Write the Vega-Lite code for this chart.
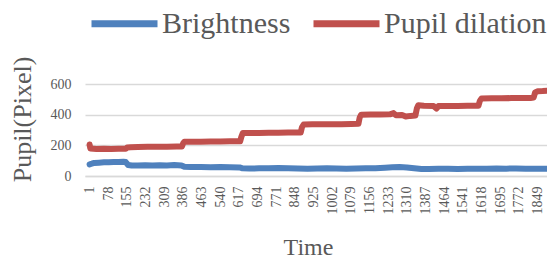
{
  "$schema": "https://vega.github.io/schema/vega-lite/v6.json",
  "width": 462,
  "height": 92,
  "autosize": "none",
  "padding": {"left": 85, "top": 84, "right": 0, "bottom": 88},
  "background": "white",
  "config": {"view": {"stroke": null}, "font": "Liberation Serif"},
  "data": {
    "values": [
      {"t": 1, "series": "Pupil dilation", "v": 205},
      {"t": 4, "series": "Pupil dilation", "v": 180},
      {"t": 30, "series": "Pupil dilation", "v": 176},
      {"t": 60, "series": "Pupil dilation", "v": 177},
      {"t": 90, "series": "Pupil dilation", "v": 176},
      {"t": 120, "series": "Pupil dilation", "v": 177},
      {"t": 150, "series": "Pupil dilation", "v": 177},
      {"t": 156, "series": "Pupil dilation", "v": 186},
      {"t": 170, "series": "Pupil dilation", "v": 188},
      {"t": 200, "series": "Pupil dilation", "v": 189},
      {"t": 240, "series": "Pupil dilation", "v": 190},
      {"t": 280, "series": "Pupil dilation", "v": 190},
      {"t": 320, "series": "Pupil dilation", "v": 191},
      {"t": 360, "series": "Pupil dilation", "v": 192},
      {"t": 382, "series": "Pupil dilation", "v": 193},
      {"t": 387, "series": "Pupil dilation", "v": 214},
      {"t": 392, "series": "Pupil dilation", "v": 223},
      {"t": 420, "series": "Pupil dilation", "v": 224},
      {"t": 460, "series": "Pupil dilation", "v": 224},
      {"t": 500, "series": "Pupil dilation", "v": 225},
      {"t": 540, "series": "Pupil dilation", "v": 225},
      {"t": 580, "series": "Pupil dilation", "v": 226},
      {"t": 622, "series": "Pupil dilation", "v": 226},
      {"t": 627, "series": "Pupil dilation", "v": 255},
      {"t": 633, "series": "Pupil dilation", "v": 280},
      {"t": 660, "series": "Pupil dilation", "v": 281},
      {"t": 700, "series": "Pupil dilation", "v": 281},
      {"t": 740, "series": "Pupil dilation", "v": 282},
      {"t": 780, "series": "Pupil dilation", "v": 282},
      {"t": 820, "series": "Pupil dilation", "v": 283},
      {"t": 860, "series": "Pupil dilation", "v": 283},
      {"t": 872, "series": "Pupil dilation", "v": 284},
      {"t": 877, "series": "Pupil dilation", "v": 318},
      {"t": 884, "series": "Pupil dilation", "v": 336},
      {"t": 920, "series": "Pupil dilation", "v": 337},
      {"t": 960, "series": "Pupil dilation", "v": 337},
      {"t": 1000, "series": "Pupil dilation", "v": 338},
      {"t": 1040, "series": "Pupil dilation", "v": 338},
      {"t": 1080, "series": "Pupil dilation", "v": 339},
      {"t": 1110, "series": "Pupil dilation", "v": 340},
      {"t": 1115, "series": "Pupil dilation", "v": 380},
      {"t": 1121, "series": "Pupil dilation", "v": 400},
      {"t": 1160, "series": "Pupil dilation", "v": 401},
      {"t": 1200, "series": "Pupil dilation", "v": 401},
      {"t": 1240, "series": "Pupil dilation", "v": 402},
      {"t": 1255, "series": "Pupil dilation", "v": 410},
      {"t": 1265, "series": "Pupil dilation", "v": 396},
      {"t": 1290, "series": "Pupil dilation", "v": 398},
      {"t": 1305, "series": "Pupil dilation", "v": 388},
      {"t": 1325, "series": "Pupil dilation", "v": 392},
      {"t": 1345, "series": "Pupil dilation", "v": 394},
      {"t": 1351, "series": "Pupil dilation", "v": 440},
      {"t": 1357, "series": "Pupil dilation", "v": 462},
      {"t": 1380, "series": "Pupil dilation", "v": 458},
      {"t": 1420, "series": "Pupil dilation", "v": 457},
      {"t": 1432, "series": "Pupil dilation", "v": 440},
      {"t": 1440, "series": "Pupil dilation", "v": 456},
      {"t": 1480, "series": "Pupil dilation", "v": 457},
      {"t": 1520, "series": "Pupil dilation", "v": 457},
      {"t": 1560, "series": "Pupil dilation", "v": 458},
      {"t": 1605, "series": "Pupil dilation", "v": 458},
      {"t": 1611, "series": "Pupil dilation", "v": 490},
      {"t": 1618, "series": "Pupil dilation", "v": 506},
      {"t": 1660, "series": "Pupil dilation", "v": 507},
      {"t": 1700, "series": "Pupil dilation", "v": 507},
      {"t": 1740, "series": "Pupil dilation", "v": 508},
      {"t": 1780, "series": "Pupil dilation", "v": 508},
      {"t": 1820, "series": "Pupil dilation", "v": 509},
      {"t": 1833, "series": "Pupil dilation", "v": 512},
      {"t": 1839, "series": "Pupil dilation", "v": 545},
      {"t": 1850, "series": "Pupil dilation", "v": 553},
      {"t": 1870, "series": "Pupil dilation", "v": 554},
      {"t": 1888, "series": "Pupil dilation", "v": 556},
      {"t": 1, "series": "Brightness", "v": 76},
      {"t": 10, "series": "Brightness", "v": 80},
      {"t": 20, "series": "Brightness", "v": 85},
      {"t": 40, "series": "Brightness", "v": 87},
      {"t": 60, "series": "Brightness", "v": 89},
      {"t": 80, "series": "Brightness", "v": 90},
      {"t": 100, "series": "Brightness", "v": 91},
      {"t": 120, "series": "Brightness", "v": 92},
      {"t": 140, "series": "Brightness", "v": 93},
      {"t": 150, "series": "Brightness", "v": 91},
      {"t": 160, "series": "Brightness", "v": 72},
      {"t": 175, "series": "Brightness", "v": 68},
      {"t": 200, "series": "Brightness", "v": 69},
      {"t": 230, "series": "Brightness", "v": 70},
      {"t": 260, "series": "Brightness", "v": 68},
      {"t": 290, "series": "Brightness", "v": 70},
      {"t": 320, "series": "Brightness", "v": 69},
      {"t": 350, "series": "Brightness", "v": 71},
      {"t": 380, "series": "Brightness", "v": 69},
      {"t": 392, "series": "Brightness", "v": 60},
      {"t": 420, "series": "Brightness", "v": 58},
      {"t": 460, "series": "Brightness", "v": 59},
      {"t": 500, "series": "Brightness", "v": 57},
      {"t": 540, "series": "Brightness", "v": 58},
      {"t": 580, "series": "Brightness", "v": 57},
      {"t": 620, "series": "Brightness", "v": 56},
      {"t": 632, "series": "Brightness", "v": 50},
      {"t": 660, "series": "Brightness", "v": 49},
      {"t": 700, "series": "Brightness", "v": 50},
      {"t": 740, "series": "Brightness", "v": 51},
      {"t": 780, "series": "Brightness", "v": 52},
      {"t": 820, "series": "Brightness", "v": 50},
      {"t": 860, "series": "Brightness", "v": 49},
      {"t": 900, "series": "Brightness", "v": 48},
      {"t": 940, "series": "Brightness", "v": 49},
      {"t": 980, "series": "Brightness", "v": 50},
      {"t": 1020, "series": "Brightness", "v": 49},
      {"t": 1060, "series": "Brightness", "v": 48},
      {"t": 1100, "series": "Brightness", "v": 49},
      {"t": 1140, "series": "Brightness", "v": 50},
      {"t": 1180, "series": "Brightness", "v": 51},
      {"t": 1220, "series": "Brightness", "v": 54},
      {"t": 1250, "series": "Brightness", "v": 57},
      {"t": 1280, "series": "Brightness", "v": 58},
      {"t": 1310, "series": "Brightness", "v": 56},
      {"t": 1340, "series": "Brightness", "v": 50},
      {"t": 1370, "series": "Brightness", "v": 45},
      {"t": 1400, "series": "Brightness", "v": 46},
      {"t": 1440, "series": "Brightness", "v": 48},
      {"t": 1480, "series": "Brightness", "v": 47},
      {"t": 1520, "series": "Brightness", "v": 46},
      {"t": 1560, "series": "Brightness", "v": 48},
      {"t": 1600, "series": "Brightness", "v": 47},
      {"t": 1640, "series": "Brightness", "v": 48},
      {"t": 1680, "series": "Brightness", "v": 49},
      {"t": 1720, "series": "Brightness", "v": 48},
      {"t": 1760, "series": "Brightness", "v": 49},
      {"t": 1800, "series": "Brightness", "v": 48},
      {"t": 1840, "series": "Brightness", "v": 47},
      {"t": 1888, "series": "Brightness", "v": 48}
    ]
  },
  "mark": {"type": "line", "strokeWidth": 6, "strokeCap": "round", "strokeJoin": "round"},
  "encoding": {
    "x": {
      "field": "t",
      "type": "quantitative",
      "scale": {"domain": [-18, 1888], "nice": false, "zero": false},
      "axis": {
        "values": [1, 78, 155, 232, 309, 386, 463, 540, 617, 694, 771, 848, 925, 1002, 1079, 1156, 1233, 1310, 1387, 1464, 1541, 1618, 1695, 1772, 1849],
        "format": "d",
        "labelAngle": -90,
        "labelFontSize": 14,
        "labelColor": "#595959",
        "labelPadding": 10,
        "labelOverlap": false,
        "labelFlush": false,
        "grid": false,
        "ticks": false,
        "domain": true,
        "domainColor": "#d9d9d9",
        "domainWidth": 1.5,
        "title": "Time",
        "titleFontSize": 24,
        "titleFontWeight": "normal",
        "titleColor": "#595959",
        "titleX": 223,
        "titleY": 78,
        "titleBaseline": "alphabetic",
        "titleAlign": "center"
      }
    },
    "y": {
      "field": "v",
      "type": "quantitative",
      "scale": {"domain": [0, 600], "nice": false},
      "axis": {
        "values": [0, 200, 400, 600],
        "grid": true,
        "gridColor": "#d9d9d9",
        "gridWidth": 1.5,
        "domain": false,
        "ticks": false,
        "labelFontSize": 14,
        "labelColor": "#595959",
        "labelPadding": 14,
        "title": "Pupil(Pixel)",
        "titleFontSize": 26,
        "titleFontWeight": "normal",
        "titleColor": "#595959",
        "titleX": -55,
        "titleY": 35,
        "titleBaseline": "alphabetic",
        "titleAlign": "center"
      }
    },
    "color": {
      "field": "series",
      "type": "nominal",
      "scale": {"domain": ["Brightness", "Pupil dilation"], "range": ["#4f81bd", "#c0504d"]},
      "legend": {
        "title": null,
        "orient": "none",
        "legendX": 3,
        "legendY": -97,
        "direction": "horizontal",
        "symbolType": "stroke",
        "symbolStrokeWidth": 7,
        "symbolSize": 4356,
        "labelFontSize": 30,
        "labelLimit": 400,
        "labelColor": "#595959",
        "labelOffset": 1,
        "columnPadding": 8,
        "padding": 0
      }
    }
  }
}
